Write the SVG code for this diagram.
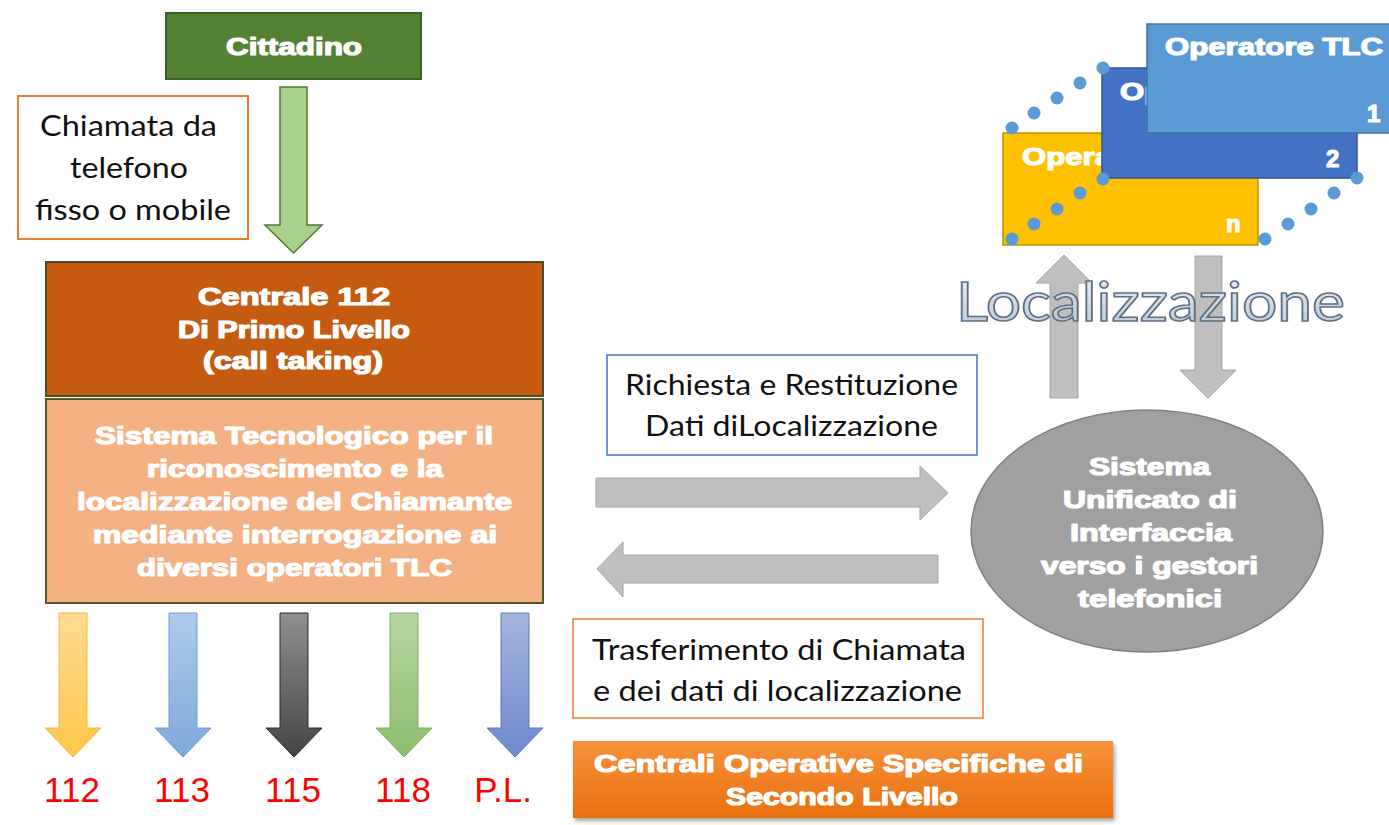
<svg xmlns="http://www.w3.org/2000/svg" width="1389" height="825" viewBox="0 0 1389 825">
<defs>
<style>
.hv{font-family:"Liberation Sans",Arial,sans-serif;font-weight:bold;fill:#fff;stroke:#fff;stroke-width:1.2;stroke-linejoin:round}
.lt{font-family:Lato,"Liberation Sans",sans-serif;font-size:29px;fill:#111}
.num{font-family:"Liberation Sans",Arial,sans-serif;font-size:35px;fill:#f00;text-anchor:middle}
.garrow{fill:#bfbfbf;stroke:#a6a6a6;stroke-width:1}
.dot{fill:#5b9bd5}
</style>
<linearGradient id="gY" x1="0" y1="0" x2="0" y2="1"><stop offset="0" stop-color="#ffdc94"/><stop offset="1" stop-color="#ffc64a"/></linearGradient>
<linearGradient id="gB" x1="0" y1="0" x2="0" y2="1"><stop offset="0" stop-color="#aecbec"/><stop offset="1" stop-color="#7ea8dc"/></linearGradient>
<linearGradient id="gK" x1="0" y1="0" x2="0" y2="1"><stop offset="0" stop-color="#909090"/><stop offset="1" stop-color="#444"/></linearGradient>
<linearGradient id="gG" x1="0" y1="0" x2="0" y2="1"><stop offset="0" stop-color="#b6d7a2"/><stop offset="1" stop-color="#8dbd70"/></linearGradient>
<linearGradient id="gP" x1="0" y1="0" x2="0" y2="1"><stop offset="0" stop-color="#a3b4dc"/><stop offset="1" stop-color="#6e88cc"/></linearGradient>
<linearGradient id="gO" x1="0" y1="0" x2="0" y2="1"><stop offset="0" stop-color="#f8913d"/><stop offset="1" stop-color="#e8700f"/></linearGradient>
<linearGradient id="gL" x1="0" y1="0" x2="0" y2="1"><stop offset="0" stop-color="#eef3f9"/><stop offset="1" stop-color="#aebfd4"/></linearGradient>
<filter id="sh" x="-5%" y="-10%" width="110%" height="130%"><feDropShadow dx="2" dy="3" stdDeviation="2" flood-color="#000" flood-opacity="0.35"/></filter>
</defs>
<rect width="1389" height="825" fill="#fff"/>

<g id="connectors">
<path d="M280,87 H307 V225 H322 L293.5,253 L265,225 H280 Z" fill="#a9d18e" stroke="#4f7a36" stroke-width="1.5"/>
<path class="garrow" d="M596,478 H920 V466 L948,493 L920,520 V507 H596 Z"/>
<path class="garrow" d="M938,555 H623 V542 L597,569 L623,597 V583 H938 Z"/>
<path class="garrow" d="M1050,398 V283 H1036 L1064,255 L1092,283 H1078 V398 Z"/>
<path class="garrow" d="M1195,256 H1222 V370 H1236 L1208,398 L1180,370 H1195 Z"/>
<path d="M59,613 H87 V728 H101 L73,757 L45,728 H59 Z" fill="url(#gY)" stroke="#f0b840" stroke-width="1"/>
<path d="M169,613 H197 V728 H211 L183,757 L155,728 H169 Z" fill="url(#gB)" stroke="#6f9bd0" stroke-width="1"/>
<path d="M280,613 H308 V728 H322 L294,757 L266,728 H280 Z" fill="url(#gK)" stroke="#2b2b2b" stroke-width="1"/>
<path d="M390,613 H418 V728 H432 L404,757 L376,728 H390 Z" fill="url(#gG)" stroke="#7fae62" stroke-width="1"/>
<path d="M501,613 H529 V728 H543 L515,757 L487,728 H501 Z" fill="url(#gP)" stroke="#5f7bc4" stroke-width="1"/>
</g>

<g id="cittadino">
<rect x="166" y="13" width="255" height="66" fill="#548235" stroke="#3b5e25" stroke-width="2"/>
<text class="hv" x="226" y="55" font-size="24" textLength="136" lengthAdjust="spacingAndGlyphs">Cittadino</text>
</g>

<g id="chiamata">
<rect x="18" y="96" width="230" height="143" fill="#fff" stroke="#ed7d31" stroke-width="2"/>
<text class="lt" x="40" y="136" textLength="177" lengthAdjust="spacingAndGlyphs">Chiamata da</text>
<text class="lt" x="70" y="178" textLength="118" lengthAdjust="spacingAndGlyphs">telefono</text>
<text class="lt" x="35" y="220" textLength="196" lengthAdjust="spacingAndGlyphs">fisso o mobile</text>
</g>

<g id="centrale112">
<rect x="46" y="262" width="497" height="134" fill="#c55a11" stroke="#4f4a2a" stroke-width="2"/>
<text class="hv" x="198" y="305" font-size="23" textLength="192" lengthAdjust="spacingAndGlyphs">Centrale 112</text>
<text class="hv" x="178" y="338" font-size="23" textLength="232" lengthAdjust="spacingAndGlyphs">Di Primo Livello</text>
<text class="hv" x="203" y="369" font-size="23" textLength="180" lengthAdjust="spacingAndGlyphs">(call taking)</text>
</g>

<g id="sistema-tecnologico">
<rect x="46" y="399" width="497" height="204" fill="#f4b183" stroke="#4f5a2a" stroke-width="2"/>
<text class="hv" x="95" y="444" font-size="23" textLength="398" lengthAdjust="spacingAndGlyphs">Sistema Tecnologico per il</text>
<text class="hv" x="147" y="477" font-size="23" textLength="296" lengthAdjust="spacingAndGlyphs">riconoscimento e la</text>
<text class="hv" x="77" y="510" font-size="23" textLength="435" lengthAdjust="spacingAndGlyphs">localizzazione del Chiamante</text>
<text class="hv" x="93" y="543" font-size="23" textLength="404" lengthAdjust="spacingAndGlyphs">mediante interrogazione ai</text>
<text class="hv" x="137" y="576" font-size="23" textLength="315" lengthAdjust="spacingAndGlyphs">diversi operatori TLC</text>
</g>

<g id="numeri">
<text class="num" x="72" y="802">112</text>
<text class="num" x="182" y="802">113</text>
<text class="num" x="293" y="802">115</text>
<text class="num" x="403" y="802">118</text>
<text class="num" x="503" y="802">P.L.</text>
</g>

<g id="richiesta">
<rect x="607" y="355" width="370" height="100" fill="#fff" stroke="#4472c4" stroke-width="1.5"/>
<text class="lt" x="625" y="395" textLength="333" lengthAdjust="spacingAndGlyphs">Richiesta e Restituzione</text>
<text class="lt" x="645" y="436" textLength="293" lengthAdjust="spacingAndGlyphs">Dati diLocalizzazione</text>
</g>

<g id="trasferimento">
<rect x="573" y="619" width="410" height="99" fill="#fff" stroke="#ed7d31" stroke-width="1.5"/>
<text class="lt" x="592" y="660" textLength="374" lengthAdjust="spacingAndGlyphs">Trasferimento di Chiamata</text>
<text class="lt" x="593" y="701" textLength="369" lengthAdjust="spacingAndGlyphs">e dei dati di localizzazione</text>
</g>

<g id="centrali-operative">
<rect x="573" y="741" width="540" height="77" fill="url(#gO)" filter="url(#sh)"/>
<text class="hv" x="594" y="772" font-size="23" textLength="489" lengthAdjust="spacingAndGlyphs">Centrali Operative Specifiche di</text>
<text class="hv" x="726" y="805" font-size="23" textLength="232" lengthAdjust="spacingAndGlyphs">Secondo Livello</text>
</g>

<g id="sistema-unificato">
<ellipse cx="1147" cy="531" rx="176" ry="121" fill="#a0a0a0" stroke="#808080" stroke-width="1.5"/>
<text class="hv" x="1089" y="475" font-size="23" textLength="121" lengthAdjust="spacingAndGlyphs">Sistema</text>
<text class="hv" x="1063" y="508" font-size="23" textLength="174" lengthAdjust="spacingAndGlyphs">Unificato di</text>
<text class="hv" x="1070" y="541" font-size="23" textLength="162" lengthAdjust="spacingAndGlyphs">Interfaccia</text>
<text class="hv" x="1041" y="574" font-size="23" textLength="217" lengthAdjust="spacingAndGlyphs">verso i gestori</text>
<text class="hv" x="1078" y="607" font-size="23" textLength="144" lengthAdjust="spacingAndGlyphs">telefonici</text>
</g>

<g id="localizzazione-label">
<text x="956" y="321" font-family="Lato,'Liberation Sans',sans-serif" font-size="55" fill="url(#gL)" fill-opacity="0.9" stroke="#5f6f80" stroke-width="1.6" textLength="389" lengthAdjust="spacingAndGlyphs">Localizzazione</text>
</g>

<g id="operatore-n">
<rect x="1003" y="133" width="255" height="112" fill="#ffc000" stroke="#bf9000" stroke-width="1.5"/>
<text class="hv" x="1022" y="165" font-size="24" textLength="218" lengthAdjust="spacingAndGlyphs">Operatore TLC</text>
<text class="hv" x="1226" y="232" font-size="24">n</text>
</g>

<g id="operatore-2">
<rect x="1102" y="68" width="255" height="110" fill="#4472c4" stroke="#2f5597" stroke-width="1.5"/>
<text class="hv" x="1120" y="100" font-size="24" textLength="218" lengthAdjust="spacingAndGlyphs">Operatore TLC</text>
<text class="hv" x="1326" y="167" font-size="24">2</text>
</g>

<g id="dotted-links">
<circle class="dot" cx="1012" cy="128" r="6.5"/><circle class="dot" cx="1034" cy="113" r="6.5"/><circle class="dot" cx="1057" cy="98" r="6.5"/><circle class="dot" cx="1080" cy="83" r="6.5"/><circle class="dot" cx="1103" cy="68" r="6.5"/>
<circle class="dot" cx="1012" cy="239" r="6.5"/><circle class="dot" cx="1034" cy="224" r="6.5"/><circle class="dot" cx="1057" cy="209" r="6.5"/><circle class="dot" cx="1080" cy="193" r="6.5"/><circle class="dot" cx="1103" cy="179" r="6.5"/>
<circle class="dot" cx="1265" cy="239" r="6.5"/><circle class="dot" cx="1288" cy="224" r="6.5"/><circle class="dot" cx="1311" cy="209" r="6.5"/><circle class="dot" cx="1334" cy="193" r="6.5"/><circle class="dot" cx="1357" cy="178" r="6.5"/>
</g>

<g id="operatore-1">
<rect x="1147" y="24" width="260" height="109" fill="#5b9bd5" stroke="#41719c" stroke-width="1.5"/>
<text class="hv" x="1165" y="55" font-size="24" textLength="218" lengthAdjust="spacingAndGlyphs">Operatore TLC</text>
<text class="hv" x="1367" y="122" font-size="24">1</text>
</g>
</svg>
